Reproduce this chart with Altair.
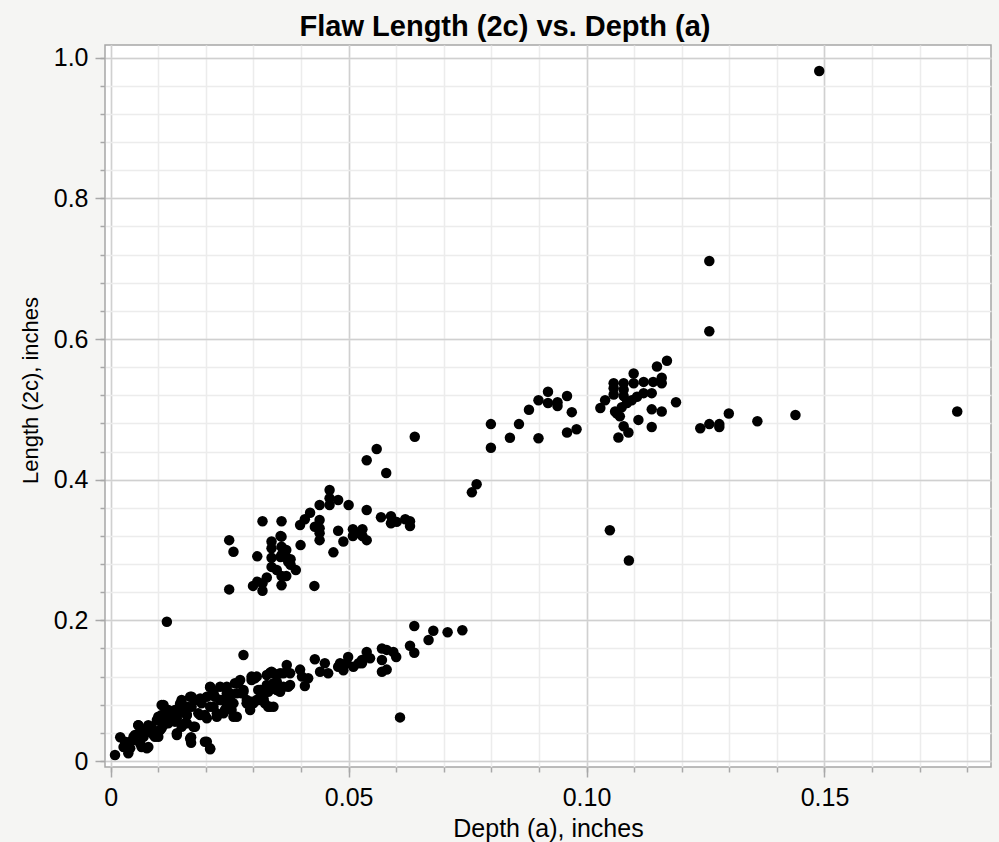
import altair as alt
import pandas as pd

# ---- data: (depth a, length 2c), inches ----
lower_band = [
    (0.0009, 0.0085), (0.0020, 0.0337), (0.0030, 0.0275), (0.0041, 0.0180), (0.0037, 0.0110),
    (0.0027, 0.0200), (0.0048, 0.0300), (0.0058, 0.0510), (0.0069, 0.0440), (0.0079, 0.0490),
    (0.0079, 0.0200), (0.0062, 0.0250), (0.0051, 0.0370), (0.0069, 0.0345), (0.0090, 0.0370),
    (0.0100, 0.0345), (0.0104, 0.0440), (0.0111, 0.0510), (0.0111, 0.0796), (0.0100, 0.0630),
    (0.0107, 0.0654), (0.0125, 0.0678), (0.0121, 0.0536), (0.0139, 0.0607), (0.0139, 0.0394),
    (0.0149, 0.0488), (0.0135, 0.0725), (0.0149, 0.0867), (0.0160, 0.0772), (0.0170, 0.0914),
    (0.0177, 0.0867), (0.0188, 0.0890), (0.0202, 0.0914), (0.0209, 0.1048), (0.0216, 0.0772),
    (0.0202, 0.0607), (0.0188, 0.0654), (0.0169, 0.0337), (0.0169, 0.0260), (0.0198, 0.0275),
    (0.0209, 0.0166), (0.0174, 0.0488), (0.0160, 0.0536), (0.0146, 0.0796), (0.0160, 0.0654),
    (0.0118, 0.0725), (0.0097, 0.0583), (0.0086, 0.0488), (0.0230, 0.0867), (0.0244, 0.0772),
    (0.0258, 0.0630), (0.0251, 0.0867), (0.0265, 0.0963), (0.0261, 0.1105), (0.0272, 0.1152),
    (0.0279, 0.1010), (0.0237, 0.0678), (0.0223, 0.0630), (0.0216, 0.0985), (0.0230, 0.1056),
    (0.0244, 0.0963), (0.0244, 0.1056), (0.0286, 0.0867), (0.0296, 0.0843), (0.0307, 0.0867),
    (0.0296, 0.1200), (0.0307, 0.1200), (0.0314, 0.1010), (0.0321, 0.0867), (0.0331, 0.0772),
    (0.0342, 0.0772), (0.0328, 0.1223), (0.0338, 0.1270), (0.0349, 0.1128),
    (0.0041, 0.0275), (0.0048, 0.0345), (0.0058, 0.0390), (0.0065, 0.0200), (0.0076, 0.0180),
    (0.0079, 0.0417), (0.0079, 0.0510), (0.0058, 0.0510), (0.0093, 0.0345), (0.0100, 0.0417),
    (0.0107, 0.0465), (0.0104, 0.0583), (0.0111, 0.0654), (0.0107, 0.0796), (0.0121, 0.0725),
    (0.0118, 0.0583), (0.0128, 0.0654), (0.0135, 0.0560), (0.0139, 0.0370), (0.0146, 0.0820),
    (0.0149, 0.0700), (0.0160, 0.0654), (0.0156, 0.0536), (0.0167, 0.0914), (0.0170, 0.0772),
    (0.0167, 0.0320), (0.0177, 0.0488), (0.0184, 0.0678), (0.0191, 0.0820), (0.0198, 0.0654),
    (0.0209, 0.1056), (0.0209, 0.0772), (0.0202, 0.0275), (0.0209, 0.0180), (0.0219, 0.0914),
    (0.0223, 0.0678), (0.0233, 0.0867), (0.0240, 0.0725), (0.0251, 0.0963), (0.0258, 0.0820),
    (0.0265, 0.0630), (0.0268, 0.1105), (0.0275, 0.0963), (0.0286, 0.0820), (0.0300, 0.1176),
    (0.0310, 0.1010), (0.0293, 0.0725), (0.0254, 0.0725),
    (0.0638, 0.1920), (0.0678, 0.1853), (0.0668, 0.1720), (0.0708, 0.1830), (0.0739, 0.1860),
    (0.0629, 0.1640), (0.0638, 0.1540), (0.0608, 0.0620), (0.0570, 0.1600), (0.0580, 0.1580),
    (0.0594, 0.1550), (0.0600, 0.1480), (0.0570, 0.1436), (0.0570, 0.1270), (0.0580, 0.1300),
    (0.0538, 0.1550), (0.0545, 0.1460), (0.0528, 0.1436), (0.0521, 0.1390), (0.0528, 0.1390),
    (0.0499, 0.1480), (0.0496, 0.1390), (0.0510, 0.1340), (0.0482, 0.1390), (0.0478, 0.1340),
    (0.0489, 0.1290), (0.0429, 0.1446), (0.0450, 0.1390), (0.0440, 0.1270), (0.0457, 0.1247),
    (0.0398, 0.1300), (0.0402, 0.1200), (0.0415, 0.1176), (0.0408, 0.1066), (0.0370, 0.1365),
    (0.0377, 0.1247), (0.0363, 0.1247), (0.0356, 0.1247), (0.0335, 0.1256), (0.0342, 0.1247),
    (0.0303, 0.1176), (0.0296, 0.1152), (0.0279, 0.1507), (0.0363, 0.1056),
    (0.0373, 0.1056), (0.0356, 0.0985), (0.0377, 0.1080), (0.0349, 0.1010), (0.0342, 0.1105),
    (0.0328, 0.1080), (0.0331, 0.0985), (0.0314, 0.1010), (0.0310, 0.0867), (0.0321, 0.0890),
    (0.0300, 0.0820), (0.0286, 0.0820), (0.0279, 0.0985), (0.0335, 0.0770), (0.0324, 0.0820),
    (0.0118, 0.1980),
]

upper_cluster = [
    (0.0639, 0.4610), (0.0559, 0.4436), (0.0538, 0.4276), (0.0579, 0.4095), (0.0460, 0.3853),
    (0.0460, 0.3735), (0.0460, 0.3640), (0.0478, 0.3710), (0.0500, 0.3640), (0.0439, 0.3640),
    (0.0419, 0.3530), (0.0408, 0.3437), (0.0398, 0.3356), (0.0439, 0.3427), (0.0429, 0.3330),
    (0.0439, 0.3310), (0.0439, 0.3240), (0.0439, 0.3140), (0.0319, 0.3410), (0.0359, 0.3410),
    (0.0538, 0.3570), (0.0568, 0.3465), (0.0589, 0.3480), (0.0589, 0.3380), (0.0601, 0.3400),
    (0.0619, 0.3437), (0.0629, 0.3410), (0.0629, 0.3340), (0.0478, 0.3275), (0.0489, 0.3120),
    (0.0468, 0.2967), (0.0509, 0.3295), (0.0509, 0.3200), (0.0518, 0.3246), (0.0529, 0.3295),
    (0.0529, 0.3200), (0.0538, 0.3140), (0.0399, 0.3070), (0.0359, 0.3190), (0.0338, 0.3120),
    (0.0338, 0.3025), (0.0338, 0.2890), (0.0338, 0.2760), (0.0359, 0.3047), (0.0359, 0.2930),
    (0.0369, 0.3000), (0.0369, 0.2896), (0.0373, 0.2834), (0.0378, 0.2868), (0.0378, 0.2790),
    (0.0389, 0.2716), (0.0349, 0.2716), (0.0359, 0.2630), (0.0369, 0.2630), (0.0328, 0.2610),
    (0.0319, 0.2527), (0.0299, 0.2490), (0.0308, 0.2550), (0.0319, 0.2420), (0.0359, 0.2500),
    (0.0308, 0.2910), (0.0249, 0.3140), (0.0258, 0.2976), (0.0249, 0.2440), (0.0428, 0.2490),
    (0.0357, 0.3200), (0.0357, 0.2900),
]

middle_group = [
    (0.0759, 0.3820), (0.0769, 0.3934), (0.0799, 0.4455), (0.0799, 0.4790), (0.0839, 0.4597),
    (0.0858, 0.4790), (0.0879, 0.4995), (0.0899, 0.5129), (0.0919, 0.5250), (0.0919, 0.5090),
    (0.0939, 0.5100), (0.0939, 0.5048), (0.0959, 0.5190), (0.0969, 0.4960), (0.0899, 0.4590),
    (0.0959, 0.4670), (0.0979, 0.4716),
]

right_cluster = [
    (0.1029, 0.5020), (0.1039, 0.5130), (0.1057, 0.5370), (0.1057, 0.5300), (0.1057, 0.5210),
    (0.1060, 0.4970), (0.1070, 0.4900), (0.1067, 0.4600), (0.1078, 0.5370), (0.1078, 0.5280),
    (0.1078, 0.5190), (0.1078, 0.4760), (0.1088, 0.4670), (0.1085, 0.5090), (0.1074, 0.5030),
    (0.1064, 0.4940), (0.1095, 0.5130), (0.1099, 0.5510), (0.1099, 0.5370), (0.1106, 0.5180),
    (0.1109, 0.4850), (0.1120, 0.5390), (0.1120, 0.5230), (0.1137, 0.5230), (0.1140, 0.5390),
    (0.1137, 0.5000), (0.1137, 0.4750), (0.1148, 0.5610), (0.1158, 0.5450), (0.1158, 0.5370),
    (0.1158, 0.4970), (0.1169, 0.5690), (0.1188, 0.5100), (0.1239, 0.4730), (0.1258, 0.4790),
    (0.1279, 0.4790), (0.1279, 0.4750), (0.1299, 0.4940), (0.1359, 0.4830), (0.1439, 0.4920),
    (0.1779, 0.4970),
]

outliers = [
    (0.1258, 0.6110), (0.1258, 0.7110), (0.1489, 0.9810), (0.1049, 0.3280), (0.1089, 0.2850),
]

# ---- axis tick positions ----
x_minor_ticks = [0.0, 0.01, 0.02, 0.03, 0.04, 0.05, 0.06, 0.07, 0.08, 0.09,
                 0.10, 0.11, 0.12, 0.13, 0.14, 0.15, 0.16, 0.17, 0.18]
x_major_ticks = [0.0, 0.05, 0.10, 0.15]
y_minor_ticks = [0.0, 0.04, 0.08, 0.12, 0.16, 0.20, 0.24, 0.28, 0.32, 0.36, 0.40,
                 0.44, 0.48, 0.52, 0.56, 0.60, 0.64, 0.68, 0.72, 0.76, 0.80,
                 0.84, 0.88, 0.92, 0.96, 1.00]
y_major_ticks = [0.0, 0.2, 0.4, 0.6, 0.8, 1.0]

rows = lower_band + upper_cluster + middle_group + right_cluster + outliers
df = pd.DataFrame(rows, columns=["depth", "length"])

FONT = "Liberation Sans"
xscale = alt.Scale(domain=[-0.0012, 0.185], nice=False, zero=False)
yscale = alt.Scale(domain=[-0.0085, 1.018], nice=False, zero=False)

base = alt.Chart(df)

minor = base.mark_circle(size=110, opacity=0).encode(
    x=alt.X("depth:Q", scale=xscale,
            axis=alt.Axis(orient="bottom", values=x_minor_ticks, labels=False, title=None,
                          grid=True, gridColor="#ececec", gridWidth=1.5,
                          ticks=True, tickSize=5, tickColor="#a8a8a8", tickWidth=1.5,
                          domain=False)),
    y=alt.Y("length:Q", scale=yscale,
            axis=alt.Axis(orient="left", values=y_minor_ticks, labels=False, title=None,
                          grid=True, gridColor="#ececec", gridWidth=1.5,
                          ticks=True, tickSize=5, tickColor="#a8a8a8", tickWidth=1.5,
                          domain=False)),
)

major = base.mark_circle(size=110, opacity=1, color="black").encode(
    x=alt.X("depth:Q", scale=xscale,
            axis=alt.Axis(orient="bottom", values=x_major_ticks,
                          labelExpr="datum.value == 0 ? '0' : format(datum.value, '.2f')",
                          labelFont=FONT, labelFontSize=25, labelColor="black",
                          labelBaseline="alphabetic", labelPadding=28,
                          labelOverlap=False, labelFlush=False,
                          grid=True, gridColor="#d0d0d0", gridWidth=1.5,
                          ticks=True, tickSize=10, tickColor="#a8a8a8", tickWidth=1.5,
                          domain=False,
                          title="Depth (a), inches", titleFont=FONT, titleFontSize=25,
                          titleFontWeight="normal", titleColor="black",
                          titleBaseline="alphabetic", titleY=69)),
    y=alt.Y("length:Q", scale=yscale,
            axis=alt.Axis(orient="left", values=y_major_ticks,
                          labelExpr="datum.value == 0 ? '0' : format(datum.value, '.1f')",
                          labelFont=FONT, labelFontSize=25, labelColor="black",
                          labelPadding=7, labelOverlap=False, labelFlush=False,
                          grid=True, gridColor="#d0d0d0", gridWidth=1.5,
                          ticks=True, tickSize=10, tickColor="#a8a8a8", tickWidth=1.5,
                          domain=False,
                          title="Length (2c), inches", titleFont=FONT, titleFontSize=22,
                          titleFontWeight="normal", titleColor="black",
                          titleBaseline="alphabetic", titleX=-68, titleY=345, titleAngle=270)),
)

chart = alt.layer(minor, major).resolve_axis(x="independent", y="independent").properties(
    width=886, height=722,
    title=alt.TitleParams("Flaw Length (2c) vs. Depth (a)", font=FONT, fontSize=29,
                          fontWeight="bold", color="black", anchor="middle",
                          frame="bounds", baseline="alphabetic", offset=8, dy=28),
    background="#f5f5f3",
    padding={"left": 105, "top": 45, "right": 8, "bottom": 75},
    autosize=alt.AutoSizeParams(type="none"),
).configure_view(fill="white", stroke="#a6a6a6", strokeWidth=1.5)

chart.save("out.html", embed_options={"renderer": "svg", "actions": False})
